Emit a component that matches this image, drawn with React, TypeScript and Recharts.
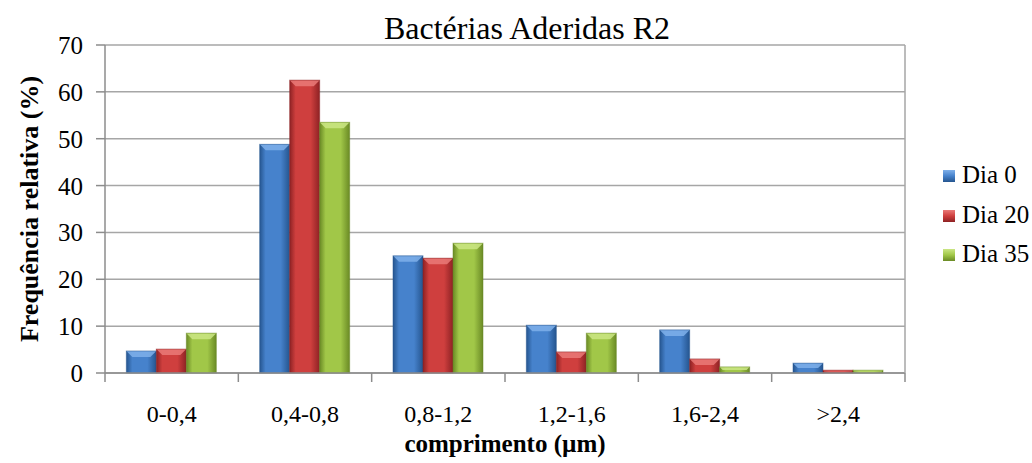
import React from "react";
import { BarChart, Bar, XAxis, YAxis, CartesianGrid } from "recharts";

const categories = ["0-0,4", "0,4-0,8", "0,8-1,2", "1,2-1,6", "1,6-2,4", ">2,4"];
const dia0 = [4.7, 48.8, 25.0, 10.2, 9.2, 2.1];
const dia20 = [5.1, 62.5, 24.5, 4.5, 3.0, 0.6];
const dia35 = [8.5, 53.5, 27.7, 8.5, 1.3, 0.6];
const yTicks = [0, 10, 20, 30, 40, 50, 60, 70];

const data = categories.map((c, i) => ({ cat: c, d0: dia0[i], d20: dia20[i], d35: dia35[i] }));

const series = [
  { key: "d0", name: "Dia 0", id: "gb", dark: "#25558f", mid: "#4682cc", light: "#7fb0ea" },
  { key: "d20", name: "Dia 20", id: "gr", dark: "#8e2224", mid: "#cf3f3e", light: "#ea7a78" },
  { key: "d35", name: "Dia 35", id: "gg", dark: "#6a8a25", mid: "#a1c748", light: "#cbe685" },
];

const FONT = "'Liberation Serif', 'Times New Roman', serif";
const BAND = 800 / 6;

const makeShape = (s: any) => (props: any) => {
  const { x, y, width, height } = props;
  if (!height || height <= 0) return null;
  const b = Math.min(6, height / 2, width / 4);
  return (
    <g>
      <rect x={x} y={y} width={width} height={height} fill={`url(#${s.id})`} />
      <polygon
        points={`${x},${y} ${x + width},${y} ${x + width - b},${y + b} ${x + b},${y + b}`}
        fill={s.light}
        opacity={0.85}
      />
      <rect x={x} y={y} width={width} height={height} fill="none" stroke={s.dark} strokeOpacity={0.5} strokeWidth={1} />
    </g>
  );
};

const XTick = (props: any) => {
  const { x, y, payload, index } = props;
  const left = x - BAND / 2;
  return (
    <g>
      <line x1={left} y1={y} x2={left} y2={y + 9} stroke="#8c8c8c" strokeWidth={1.5} />
      {index === categories.length - 1 && (
        <line x1={x + BAND / 2} y1={y} x2={x + BAND / 2} y2={y + 9} stroke="#8c8c8c" strokeWidth={1.5} />
      )}
      <text x={x} y={y + 49} textAnchor="middle" fontFamily={FONT} fontSize={24} fill="#000">
        {payload.value}
      </text>
    </g>
  );
};

const YTick = (props: any) => {
  const { x, y, payload } = props;
  return (
    <text x={x} y={y + 9} textAnchor="end" fontFamily={FONT} fontSize={25} fill="#000">
      {payload.value}
    </text>
  );
};

const LegendBox = () => (
  <div
    style={{
      position: "absolute",
      left: 943,
      top: 155,
      fontFamily: FONT,
      fontSize: 25,
      lineHeight: "39.5px",
      color: "#000",
    }}
  >
    {series.map((s) => (
      <div key={s.key} style={{ display: "flex", alignItems: "center", height: 39.5, whiteSpace: "nowrap" }}>
        <div
          style={{
            width: 12,
            height: 12,
            marginRight: 7,
            marginTop: 3,
            background: `linear-gradient(180deg, ${s.light}, ${s.mid} 50%, ${s.dark})`,
          }}
        />
        <span>{s.name}</span>
      </div>
    ))}
  </div>
);

export default function App() {
  return (
    <div
      style={{
        position: "absolute",
        left: 0,
        top: 0,
        width: 1032,
        height: 463,
        background: "#fff",
        fontFamily: FONT,
      }}
    >
      <div
        style={{
          position: "absolute",
          left: 0,
          width: 1032,
          top: 10,
          textAlign: "center",
          paddingLeft: 22,
          boxSizing: "border-box",
          fontFamily: FONT,
          fontSize: 32,
          lineHeight: "36px",
          whiteSpace: "nowrap",
        }}
      >
        Bactérias Aderidas R2
      </div>
      <BarChart
        width={1032}
        height={463}
        data={data}
        margin={{ top: 45, right: 0, bottom: 0, left: 0 }}
        barCategoryGap="16%"
        barGap={0}
        style={{ fontFamily: FONT }}
      >
        <defs>
          {series.map((s) => (
            <linearGradient key={s.id} id={s.id} x1="0" y1="0" x2="1" y2="0">
              <stop offset="0%" stopColor={s.dark} />
              <stop offset="20%" stopColor={s.mid} />
              <stop offset="70%" stopColor={s.mid} />
              <stop offset="100%" stopColor={s.dark} />
            </linearGradient>
          ))}
        </defs>
        <CartesianGrid vertical={false} stroke="#a6a6a6" strokeWidth={1.5} />
        <XAxis
          dataKey="cat"
          height={90}
          tickLine={false}
          tickSize={0}
          tickMargin={0}
          tick={<XTick />}
          axisLine={{ stroke: "#8c8c8c", strokeWidth: 1.5 }}
          interval={0}
          label={{
            value: "comprimento (µm)",
            position: "insideBottom",
            offset: 11,
            fontFamily: FONT,
            fontSize: 25,
            fontWeight: "bold",
            fill: "#000",
          }}
        />
        <YAxis
          width={105}
          domain={[0, 70]}
          ticks={yTicks}
          tickSize={9}
          tickMargin={13}
          tick={<YTick />}
          tickLine={{ stroke: "#8c8c8c", strokeWidth: 1.5 }}
          axisLine={{ stroke: "#8c8c8c", strokeWidth: 1.5 }}
          label={{
            value: "Frequência relativa (%)",
            angle: -90,
            position: "insideLeft",
            offset: 29,
            style: { textAnchor: "middle" },
            fontFamily: FONT,
            fontSize: 26,
            fontWeight: "bold",
            fill: "#000",
          }}
        />
        <YAxis
          yAxisId="r"
          orientation="right"
          width={127}
          tick={false}
          tickLine={false}
          axisLine={{ stroke: "#a6a6a6", strokeWidth: 1.5 }}
        />
        {series.map((s) => (
          <Bar
            key={s.key}
            dataKey={s.key}
            name={s.name}
            fill={s.mid}
            shape={makeShape(s)}
            isAnimationActive={false}
          />
        ))}
      </BarChart>
      <LegendBox />
    </div>
  );
}
